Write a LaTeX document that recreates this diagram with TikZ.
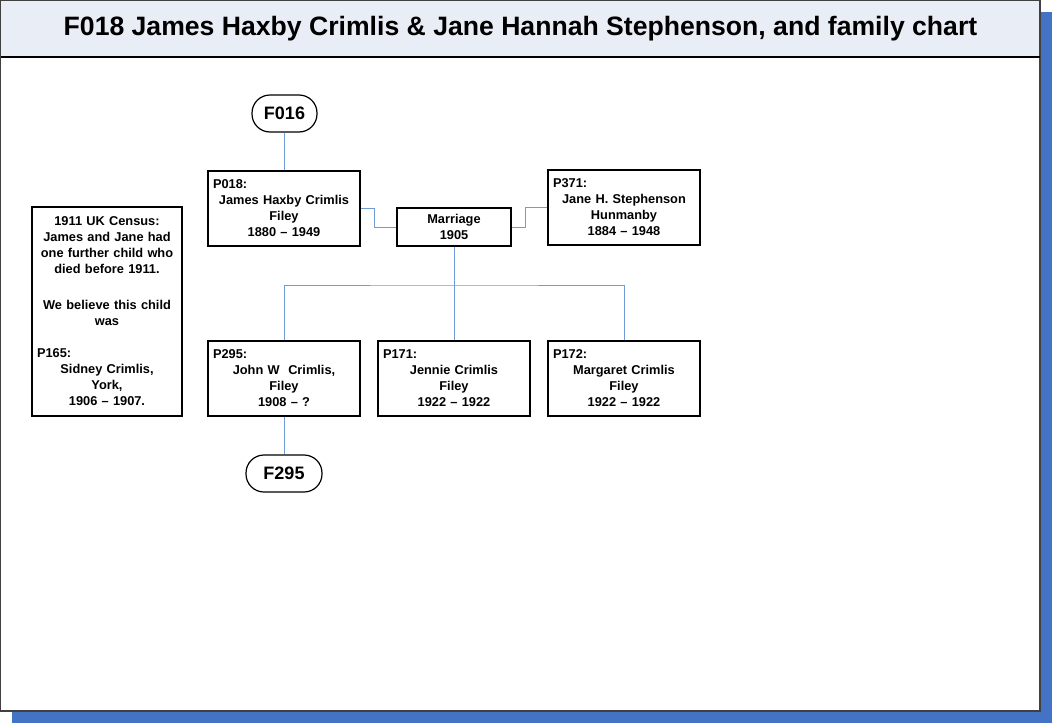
\documentclass[tikz,border=0pt]{standalone}
\usepackage{fontspec}
\setmainfont{Liberation Sans}
\usetikzlibrary{calc}
\definecolor{shadowblue}{HTML}{4472C4}
\definecolor{linkblue}{HTML}{6F9BD8}
\definecolor{titlefill}{HTML}{E9EDF6}
\definecolor{framegray}{HTML}{404040}
\tikzset{
  person/.style={draw=black, line width=1.3pt, fill=white, minimum width=152pt, minimum height=75pt,
    text width=142pt, align=center, inner sep=0pt, font=\bfseries\fontsize{12.8}{16}\selectfont},
  marriagebox/.style={draw=black, line width=1.3pt, fill=white, minimum width=114pt, minimum height=38pt,
    align=center, inner sep=0pt, font=\bfseries\fontsize{12.8}{16.5}\selectfont},
  notebox/.style={draw=black, line width=1.3pt, fill=white, minimum width=150pt, minimum height=209pt,
    text width=140pt, align=center, inner sep=0pt, font=\bfseries\fontsize{12.8}{16}\selectfont},
  famlink/.style={draw=black, line width=1.2pt, fill=white, rounded corners=18pt, minimum height=37pt,
    inner sep=0pt, font=\bfseries\fontsize{18}{20}\selectfont},
  conn/.style={draw=linkblue, line width=1pt},
}
\begin{document}
\begin{tikzpicture}[x=1pt,y=-1pt]
\useasboundingbox (0,0) rectangle (1052,723);
% shadow and frame
\fill[shadowblue] (12,12) rectangle (1052,723);
\draw[framegray, line width=1.2pt, fill=white] (0.6,0.6) rectangle (1040,711);
\fill[titlefill] (1.2,1.2) rectangle (1039.4,57);
\draw[black, line width=1.3pt] (0.6,57) -- (1040,57);
\node[font=\bfseries\fontsize{26.6}{30}\selectfont] (title) at (520.5,28.5)
  {F018 James Haxby Crimlis \& Jane Hannah Stephenson, and family chart};

% nodes
\node[famlink, minimum width=65pt] (f016) at (284.5,113.5) {F016};
\node[person] (p018) at (284,208.5)
  {\makebox[142pt][l]{P018:}\\James Haxby Crimlis\\Filey\\1880 -- 1949};
\node[marriagebox] (marr) at (454,227) {Marriage\\1905};
\node[person] (p371) at (624,207.5)
  {\makebox[142pt][l]{P371:}\\Jane H. Stephenson\\Hunmanby\\1884 -- 1948};
\node[notebox] (note) at (107,311.5)
  {1911 UK Census:\\James and Jane had\\one further child who\\died before 1911.\\[20pt]We believe this child\\was\\[16pt]\makebox[140pt][l]{P165:}\\Sidney Crimlis,\\York,\\1906 -- 1907.};
\node[person] (p295) at (284,378.5)
  {\makebox[142pt][l]{P295:}\\John W\ \ Crimlis,\\Filey\\1908 -- ?};
\node[person] (p171) at (454,378.5)
  {\makebox[142pt][l]{P171:}\\Jennie Crimlis\\Filey\\1922 -- 1922};
\node[person] (p172) at (624,378.5)
  {\makebox[142pt][l]{P172:}\\Margaret Crimlis\\Filey\\1922 -- 1922};
\node[famlink, minimum width=76pt] (f295) at (284,473.5) {F295};
\coordinate (bus) at (454,285);

% connectors
\draw[conn] (f016.south) -- (f016.south |- p018.north);
\draw[conn] (p018.east) -- ++(14,0) |- (marr.west);
\draw[conn] (marr.east) -- ++(14,0) |- (p371.west);
\draw[conn] (marr.south) -- (p171.north);
\draw[conn] (p295.north) |- (bus) -| (p172.north);
\draw[conn] (p295.south) -- (f295.north);
\end{tikzpicture}
\end{document}
